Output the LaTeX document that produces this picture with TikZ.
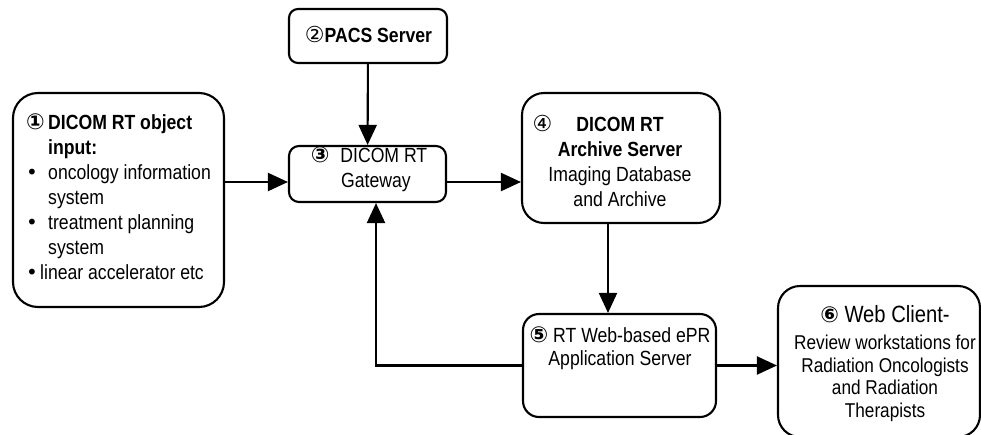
\documentclass[tikz,border=0pt]{standalone}
\usepackage{fontspec}
\setmainfont{Liberation Sans}[FakeStretch=0.86]
\newfontfamily\circfont{DejaVu Sans}
\usetikzlibrary{arrows.meta}
% circled step numbers, light and heavy, and list bullets
\newcommand{\cnum}[1]{{\circfont\fontsize{22}{22}\selectfont #1}}
\newcommand{\cnumb}[1]{{\circfont\bfseries\fontsize{22}{22}\selectfont #1}}
\newcommand{\bul}{{\circfont\fontsize{20}{20}\selectfont •}}

\begin{document}
\begin{tikzpicture}[x=1pt,y=-1pt,
  box/.style={draw, line width=2.1pt, fill=white, inner sep=0pt},
  lbl/.style={font=\fontsize{20.5}{25}\selectfont, align=center, inner sep=0pt},
  flow/.style={line width=2.1pt, -{Triangle[length=20pt,width=18pt]}}]
\useasboundingbox (0,0) rectangle (981,434);
\fill[white] (0,0) rectangle (981,434);
\clip (0,0) rectangle (981,434);

% boxes
\node[box, rounded corners=25pt, minimum width=211pt, minimum height=214pt] (input) at (118.5,200) {};
\node[box, rounded corners=9pt, minimum width=158pt, minimum height=54pt] (pacs) at (368,36) {};
\node[box, rounded corners=10pt, minimum width=157pt, minimum height=56pt] (gw) at (367.5,174) {};
\node[box, rounded corners=22pt, minimum width=198pt, minimum height=130pt] (archive) at (621,158) {};
\node[box, rounded corners=16pt, minimum width=193pt, minimum height=103pt] (epr) at (619.5,365.5) {};
\node[box, rounded corners=22pt, minimum width=202pt, minimum height=151pt] (web) at (879,361.5) {};

% box texts
\node[lbl, align=left, anchor=west] (inputtext) at (26,197) {%
\makebox[22pt][l]{\cnumb{①}}\textbf{DICOM RT object}\\
\hspace*{22pt}\textbf{input:}\\
\makebox[22pt][l]{\bul}oncology information\\
\hspace*{22pt}system\\
\makebox[22pt][l]{\bul}treatment planning\\
\hspace*{22pt}system\\
\makebox[14pt][l]{\bul}linear accelerator etc};
\node[lbl] (pacstext) at (368.5,34) {\cnum{②}\textbf{PACS Server}};
\node[lbl] (gwtext) at (369,169.5) {\cnumb{③}\hspace{11pt}DICOM RT\\ \hspace{14pt}Gateway};
\node[lbl] (archivetext) at (620,161) {\makebox[0pt][r]{\cnum{④}\hspace{24pt}}\textbf{DICOM RT}\\ \textbf{Archive Server}\\ Imaging Database\\ and Archive};
\node[lbl, font=\fontsize{20.5}{23.5}\selectfont] (eprtext) at (620,348.5) {\cnumb{⑤} RT Web-based ePR\\ Application Server};
\node[lbl, font=\fontsize{20}{22.5}\selectfont] (webtext) at (885,363.5) {{\fontsize{23.5}{23.5}\selectfont\cnumb{⑥} Web Client-}\\[5pt] Review workstations for\\ Radiation Oncologists\\ and Radiation\\ Therapists};

% connector guides
\coordinate (row) at (0,182);
\coordinate (down) at (608,0);
\coordinate (back) at (376,0);

% connectors
\draw[flow] (input.east |- row) -- (gw.west |- row);
\draw[flow] (pacs) -- (gw);
\draw[flow] (gw.east |- row) -- (archive.west |- row);
\draw[flow] (archive.south -| down) -- (epr.north -| down);
\draw[flow] (epr.west) -| (gw.south -| back);
\draw[flow] (epr.east) -- (web.west |- epr.east);
\end{tikzpicture}
\end{document}
